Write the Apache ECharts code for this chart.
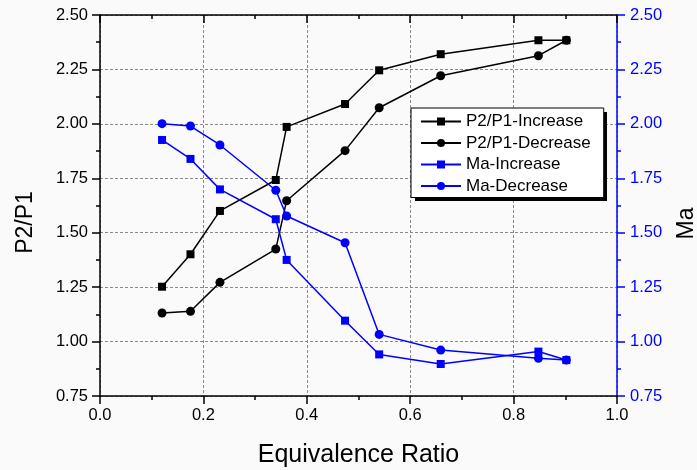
<!DOCTYPE html>
<html>
<head>
<meta charset="utf-8">
<script src="https://cdn.jsdelivr.net/npm/echarts@6/dist/echarts.min.js"></script>
<style>
html,body{margin:0;padding:0;background:#fafafa;}
#c{width:697px;height:470px;}
</style>
</head>
<body>
<div id="c"></div>
<script>
var ratio = [0.12, 0.175, 0.232, 0.34, 0.361, 0.474, 0.54, 0.659, 0.848, 0.902];
var p2p1Increase = [1.252, 1.401, 1.600, 1.742, 1.986, 2.091, 2.246, 2.320, 2.384, 2.384];
var p2p1Decrease = [1.131, 1.139, 1.272, 1.425, 1.647, 1.877, 2.074, 2.221, 2.313, 2.384];
var maIncrease = [1.926, 1.839, 1.699, 1.562, 1.375, 1.096, 0.941, 0.897, 0.954, 0.915];
var maDecrease = [2.001, 1.990, 1.903, 1.695, 1.577, 1.454, 1.033, 0.961, 0.923, 0.915];
var seriesNames = ['P2/P1-Increase', 'P2/P1-Decrease', 'Ma-Increase', 'Ma-Decrease'];

function pairs(ys){ return ratio.map(function(x,i){ return [x, ys[i]]; }); }

var FONT = '"Liberation Sans", Arial, sans-serif';
var chart = echarts.init(document.getElementById('c'), null, {renderer:'canvas'});
var black = '#000000', blue = '#0000ff';
var fmt2 = function(v){ return v.toFixed(2); };

var option = {
  backgroundColor: '#fafafa',
  animation: false,
  textStyle: {fontFamily: FONT},
  grid: {left: 100, right: 80, top: 15, bottom: 74, containLabel: false, outerBoundsMode: 'none'},
  graphic: [{
    type: 'rect', left: 415, top: 112, z: 50, silent: true,
    shape: {width: 192, height: 89},
    style: {fill: '#000'}
  }],
  legend: {
    orient: 'vertical',
    left: 411, top: 108, z: 60,
    data: seriesNames,
    itemWidth: 40, itemHeight: 10, itemGap: 4.5,
    padding: [5, 13, 3, 9],
    backgroundColor: '#ffffff',
    borderColor: '#000', borderWidth: 1, borderRadius: 0,
    textStyle: {fontFamily: FONT, fontSize: 17, color: '#000', lineHeight: 17}
  },
  xAxis: [{
    type: 'value', min: 0, max: 1, interval: 0.2, position: 'bottom',
    name: 'Equivalence Ratio', nameLocation: 'middle', nameGap: 47,
    nameTextStyle: {fontFamily: FONT, fontSize: 25, color: '#000'},
    axisLine: {show: true, lineStyle: {color: '#000', width: 1.5}},
    axisTick: {show: true, inside: false, length: 8, lineStyle: {color: '#000', width: 1.5}},
    minorTick: {show: true, splitNumber: 2, length: 4, lineStyle: {color: '#000', width: 1.5}},
    axisLabel: {fontFamily: FONT, fontSize: 16.5, color: '#000', margin: 11, formatter: function(v){return v.toFixed(1);}},
    splitLine: {show: true, lineStyle: {color: '#8a8a8a', type: [3, 2], width: 1}}
  }, {
    type: 'value', min: 0, max: 1, interval: 0.2, position: 'top',
    axisLine: {show: true, onZero: false, lineStyle: {color: '#000', width: 1.5}},
    axisTick: {show: true, inside: true, length: 8, lineStyle: {color: '#000', width: 1.5}},
    minorTick: {show: true, splitNumber: 2, length: 4, lineStyle: {color: '#000', width: 1.5}},
    axisLabel: {show: false},
    splitLine: {show: false}
  }],
  yAxis: [{
    type: 'value', min: 0.75, max: 2.5, interval: 0.25, position: 'left',
    name: 'P2/P1', nameLocation: 'middle', nameGap: 63, nameRotate: 90,
    nameTextStyle: {fontFamily: FONT, fontSize: 23, color: '#000', padding: [0, 34, 0, 0]},
    axisLine: {show: true, onZero: false, lineStyle: {color: '#000', width: 1.5}},
    axisTick: {show: true, inside: false, length: 8, lineStyle: {color: '#000', width: 1.5}},
    minorTick: {show: true, splitNumber: 2, length: 4, lineStyle: {color: '#000', width: 1.5}},
    axisLabel: {fontFamily: FONT, fontSize: 16.5, color: '#000', margin: 12, formatter: fmt2},
    splitLine: {show: true, lineStyle: {color: '#8a8a8a', type: [3, 2], width: 1}}
  }, {
    type: 'value', min: 0.75, max: 2.5, interval: 0.25, position: 'right',
    name: 'Ma', nameLocation: 'middle', nameGap: 58, nameRotate: 90,
    nameTextStyle: {fontFamily: FONT, fontSize: 23, color: '#000', padding: [0, 36, 0, 0]},
    axisLine: {show: true, onZero: false, lineStyle: {color: blue, width: 1.5}},
    axisTick: {show: true, inside: false, length: 8, lineStyle: {color: blue, width: 1.5}},
    minorTick: {show: true, splitNumber: 2, length: 4, lineStyle: {color: blue, width: 1.5}},
    axisLabel: {fontFamily: FONT, fontSize: 16.5, color: blue, margin: 13, formatter: fmt2},
    splitLine: {show: false}
  }],
  series: [{
    name: seriesNames[0], type: 'line', xAxisIndex: 0, yAxisIndex: 0,
    data: pairs(p2p1Increase), symbol: 'rect', symbolSize: 8,
    lineStyle: {color: black, width: 1.5}, itemStyle: {color: black}
  }, {
    name: seriesNames[1], type: 'line', xAxisIndex: 0, yAxisIndex: 0,
    data: pairs(p2p1Decrease), symbol: 'circle', symbolSize: 9,
    lineStyle: {color: black, width: 1.5}, itemStyle: {color: black}
  }, {
    name: seriesNames[2], type: 'line', xAxisIndex: 0, yAxisIndex: 1,
    data: pairs(maIncrease), symbol: 'rect', symbolSize: 8,
    lineStyle: {color: blue, width: 1.5}, itemStyle: {color: blue}
  }, {
    name: seriesNames[3], type: 'line', xAxisIndex: 0, yAxisIndex: 1,
    data: pairs(maDecrease), symbol: 'circle', symbolSize: 9,
    lineStyle: {color: blue, width: 1.5}, itemStyle: {color: blue}
  }]
};
chart.setOption(option);
</script>
</body>
</html>
